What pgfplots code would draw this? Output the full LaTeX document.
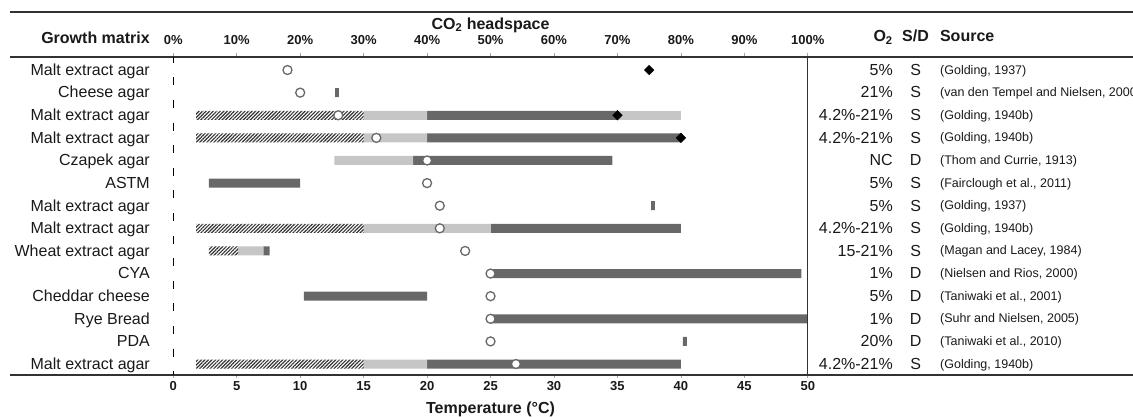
\documentclass[border=0pt]{standalone}
\usepackage{fontspec}
\setmainfont{Liberation Sans}
\usepackage{pgfplots}
\usepackage{pgfplotstable}
\pgfplotsset{compat=1.18}
\usetikzlibrary{patterns.meta}

\definecolor{darkbar}{RGB}{104,104,104}
\definecolor{lightbar}{RGB}{198,198,198}
\definecolor{rulecol}{RGB}{50,50,50}
\definecolor{ringcol}{RGB}{105,105,105}
\definecolor{txt}{RGB}{25,25,25}
\definecolor{tickcol}{RGB}{165,165,165}

\newcommand\fbig{\fontsize{16}{19}\selectfont}
\newcommand\fsrc{\fontsize{12.5}{15}\selectfont}
\newcommand\ftick{\fontsize{13}{15}\selectfont\bfseries}
\newcommand\fhead{\fontsize{16}{19}\selectfont\bfseries}

% ypos: 14 = top row. gap/hatch/light/dark/light2 are stacked lengths in degC
\pgfplotstableread{
ypos gap hatch light dark light2 opt diam matrix o2 sd source
14 0     0    0   0    0 9  37.5 {Malt extract agar}  {5\%}        S {(Golding, 1937)}
13 12.75 0    0   0.3  0 10 nan  {Cheese agar}        {21\%}       S {(van den Tempel and Nielsen, 2000)}
12 1.8   13.2 5   15   5 13 35   {Malt extract agar}  {4.2\%-21\%} S {(Golding, 1940b)}
11 1.8   13.2 5   20   0 16 40   {Malt extract agar}  {4.2\%-21\%} S {(Golding, 1940b)}
10 12.7  0    6.2 15.7 0 20 nan  {Czapek agar}        NC           D {(Thom and Currie, 1913)}
9  2.8   0    0   7.2  0 20 nan  ASTM                 {5\%}        S {(Fairclough et al., 2011)}
8  37.65 0    0   0.3  0 21 nan  {Malt extract agar}  {5\%}        S {(Golding, 1937)}
7  1.8   13.2 10  15   0 21 nan  {Malt extract agar}  {4.2\%-21\%} S {(Golding, 1940b)}
6  2.8   2.3  2   0.5  0 23 nan  {Wheat extract agar} {15-21\%}    S {(Magan and Lacey, 1984)}
5  25    0    0   24.5 0 25 nan  CYA                  {1\%}        D {(Nielsen and Rios, 2000)}
4  10.3  0    0   9.7  0 25 nan  {Cheddar cheese}     {5\%}        D {(Taniwaki et al., 2001)}
3  25    0    0   25   0 25 nan  {Rye Bread}          {1\%}        D {(Suhr and Nielsen, 2005)}
2  40.15 0    0   0.33 0 25 nan  PDA                  {20\%}       D {(Taniwaki et al., 2010)}
1  1.8   13.2 5   20   0 27 nan  {Malt extract agar}  {4.2\%-21\%} S {(Golding, 1940b)}
}\rowdata

\pgfplotsset{rowgrid/.style={x=12.69pt, y=22.615pt,
    xmin=0, xmax=50, ymin=0.505, ymax=14.575, clip=false,
    ytick={14,13,...,1}, ytick style={draw=none}}}

\begin{document}
\begin{tikzpicture}

% bars, temperature axis, growth matrix labels
\begin{axis}[rowgrid, xbar stacked, bar width=9pt,
    axis x line*=bottom, axis y line*=left, axis line style={draw=none},
    tick align=outside, major tick length=3pt,
    xtick={0,5,...,50}, xtick style={draw=tickcol, line width=0.7pt},
    yticklabels from table={\rowdata}{matrix},
    /pgf/number format/assume math mode=true,
    xticklabel style={font=\ftick, text=txt, anchor=base, inner sep=0pt, yshift=-12pt},
    yticklabel style={font=\fbig, text=txt, anchor=base east, inner sep=0pt, xshift=-20.3pt, yshift=-5.3pt},
    xlabel={Temperature (°C)},
    xlabel style={font=\fhead, text=txt, at={(axis cs:25,0.505)}, anchor=base, inner sep=0pt, yshift=-38pt}]
\addplot[draw=none, fill=none] table[x=gap, y=ypos] {\rowdata};
\addplot[draw=none, pattern={Lines[angle=45, distance=2.5pt, line width=1.15pt]}, pattern color=black!80] table[x=hatch, y=ypos] {\rowdata};
\addplot[draw=none, fill=lightbar] table[x=light, y=ypos] {\rowdata};
\addplot[draw=none, fill=darkbar] table[x=dark, y=ypos] {\rowdata};
\addplot[draw=none, fill=lightbar] table[x=light2, y=ypos] {\rowdata};
\end{axis}

% CO2 axis, markers, rules, O2 column
\begin{axis}[rowgrid,
    axis x line*=top, axis y line*=right, axis line style={draw=none},
    tick align=outside, major tick length=4pt,
    xtick={0,5,...,50}, xtick style={draw=tickcol, line width=0.7pt},
    xticklabels={0\%,10\%,20\%,30\%,40\%,50\%,60\%,70\%,80\%,90\%,100\%},
    xticklabel style={font=\ftick, text=txt, anchor=base, inner sep=0pt, yshift=9pt},
    yticklabels from table={\rowdata}{o2},
    yticklabel style={font=\fbig, text=txt, anchor=base east, inner sep=0pt, xshift=81.2pt, yshift=-5.3pt},
    xlabel={CO\textsubscript{2} headspace},
    xlabel style={font=\fhead, text=txt, at={(axis cs:25,14.575)}, anchor=base, inner sep=0pt, yshift=27.7pt}]
\draw[rulecol, line width=1.8pt] (axis cs:-12.87,16.565) -- (axis cs:75.7,16.565);
\draw[rulecol, line width=1.8pt] (axis cs:-12.87,14.575) -- (axis cs:75.7,14.575);
\draw[rulecol, line width=1.8pt] (axis cs:-12.87,0.505) -- (axis cs:75.7,0.505);
\draw[rulecol, line width=1.3pt] (axis cs:50,14.575) -- (axis cs:50,0.505);
\draw[black, line width=1.5pt, dash pattern=on 8pt off 14.615pt, dash phase=2.3pt] (axis cs:0,14.575) -- (axis cs:0,0.505);
\addplot[only marks, mark=*, mark size=4.5pt, mark options={fill=white, draw=ringcol, line width=1.3pt}] table[x=opt, y=ypos] {\rowdata};
\addplot[only marks, mark=square*, mark size=3.4pt, mark options={rotate=45, fill=black, draw=black}] table[x=diam, y=ypos] {\rowdata};
\node[font=\fhead, text=txt, anchor=base east, inner sep=0pt] at (axis cs:-1.84,15.18) {Growth matrix};
\node[font=\fhead, text=txt, anchor=base east, inner sep=0pt] at (axis cs:56.71,15.25) {O\textsubscript{2}};
\node[font=\fhead, text=txt, anchor=base, inner sep=0pt] at (axis cs:58.49,15.25) {S/D};
\node[font=\fhead, text=txt, anchor=base west, inner sep=0pt] at (axis cs:60.41,15.25) {Source};
\coordinate (bbSW) at (axis cs:-13.657,-1.31);
\coordinate (bbNE) at (axis cs:75.63,17.097);
\end{axis}

% S/D column
\begin{axis}[rowgrid, hide x axis, axis y line*=right, axis line style={draw=none},
    major tick length=0pt,
    yticklabels from table={\rowdata}{sd},
    yticklabel style={font=\fbig, text=txt, anchor=base, inner sep=0pt, xshift=107.9pt, yshift=-5.3pt}]
\end{axis}

% Source column
\begin{axis}[rowgrid, hide x axis, axis y line*=right, axis line style={draw=none},
    major tick length=0pt,
    yticklabels from table={\rowdata}{source},
    yticklabel style={font=\fsrc, text=txt, anchor=base west, inner sep=0pt, xshift=132.2pt, yshift=-4pt}]
\end{axis}

\pgfresetboundingbox
\path (bbSW) rectangle (bbNE);
\end{tikzpicture}
\end{document}
